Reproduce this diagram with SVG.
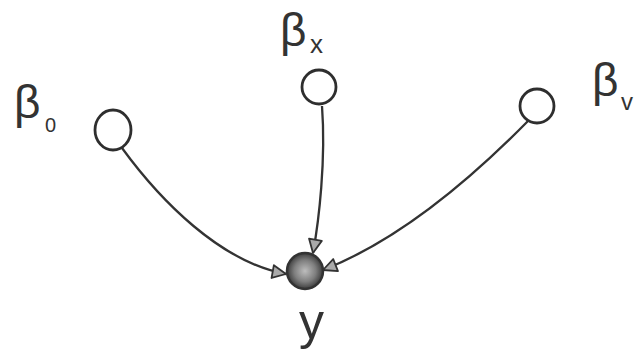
<svg xmlns="http://www.w3.org/2000/svg" width="634" height="354" viewBox="0 0 634 354">
<style>
.node{fill:#fff;stroke:#2e2e2e;stroke-width:2.8}
.edge{fill:none;stroke:#333;stroke-width:2.3}
.lbl{font-family:"Liberation Sans","DejaVu Sans",sans-serif;fill:#333}
</style>
<defs>
<marker id="ah" viewBox="0 0 16 16" refX="15" refY="8" markerWidth="16" markerHeight="16" markerUnits="userSpaceOnUse" orient="auto">
<path d="M1.5,1.5 L15,8 L1.5,14.5 Z" fill="#aaa" stroke="#333" stroke-width="1.8" stroke-linejoin="round"/>
</marker>
<radialGradient id="yg" cx="0.5" cy="0.5" r="0.5">
<stop offset="0" stop-color="#bdbdbd"/>
<stop offset="0.6" stop-color="#7e7e7e"/>
<stop offset="1" stop-color="#3c3c3c"/>
</radialGradient>
</defs>
<g id="connectors">
<path class="edge" d="M122,148 C160,200 220,262 286,274" marker-end="url(#ah)"/>
<path class="edge" d="M322,106 C326,160 319,220 313,253" marker-end="url(#ah)"/>
<path class="edge" d="M528,121 C470,180 400,240 323,270" marker-end="url(#ah)"/>
</g>
<g id="node-b0">
<ellipse class="node" cx="113" cy="130" rx="18" ry="20"/>
<text class="lbl" x="14" y="118" font-size="46">β</text>
<text class="lbl" x="45" y="132" font-size="20">0</text>
</g>
<g id="node-bx">
<circle class="node" cx="319" cy="87" r="17"/>
<text class="lbl" x="280" y="46" font-size="46">β</text>
<text class="lbl" x="310" y="53" font-size="26">x</text>
</g>
<g id="node-bv">
<circle class="node" cx="537" cy="106" r="17"/>
<text class="lbl" x="592" y="96" font-size="46">β</text>
<text class="lbl" x="621" y="110" font-size="24">v</text>
</g>
<g id="node-y">
<circle cx="305" cy="271" r="18" fill="url(#yg)" stroke="#333" stroke-width="2.5"/>
<text class="lbl" x="299" y="339" font-size="50">y</text>
</g>
</svg>
